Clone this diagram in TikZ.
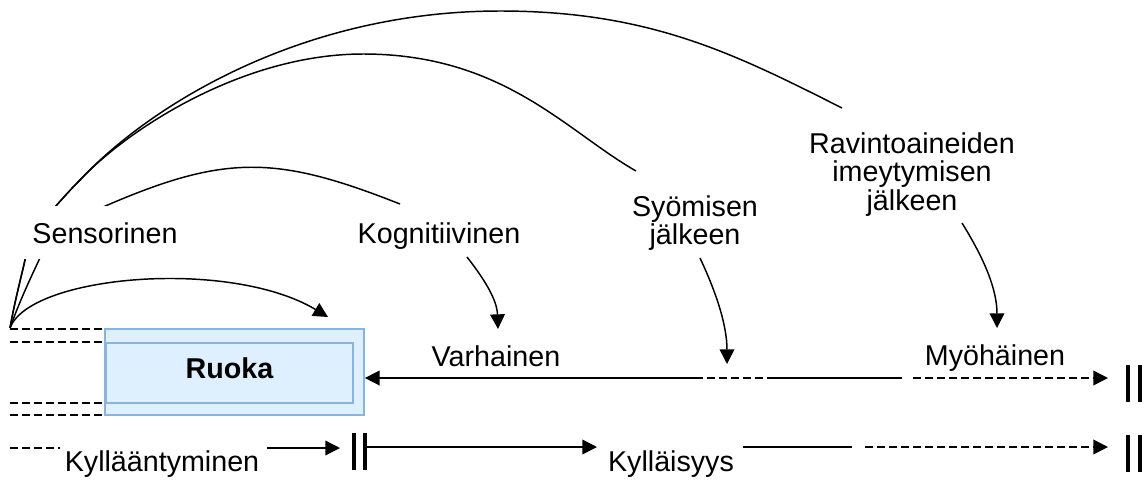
\documentclass[tikz,border=0pt]{standalone}
\usepackage{fontspec}
\setmainfont{Liberation Sans}
\usetikzlibrary{arrows.meta,backgrounds}
\definecolor{boxfill}{RGB}{222,240,253}
\definecolor{boxline}{RGB}{135,180,225}
\begin{document}
\begin{tikzpicture}[x=0.75pt,y=-0.75pt,
  lbl/.style={font=\fontsize{21.5}{21.4}\selectfont, inner sep=0pt},
  conn/.style={line width=1.1pt},
  tipped/.style={-{Triangle[length=11pt,width=11pt]}},
  dsh/.style={line width=1.1pt, dash pattern=on 6pt off 3pt},
  barline/.style={line width=2.4pt},
  rbox/.style={draw=boxline, fill=boxfill, line width=1.3pt, inner sep=0pt}]
\useasboundingbox (0,0) rectangle (1146,480);

% labels
\node[lbl, anchor=base, fill=white, minimum width=125pt, minimum height=40pt] (sens) at (105,243) {Sensorinen};
\node[lbl, anchor=base] (kog) at (439,243) {Kognitiivinen};
\node[lbl, align=center, anchor=north] (syo) at (695,195) {Syömisen\\jälkeen};
\node[lbl, align=center, anchor=north] (rav) at (912,132) {Ravintoaineiden\\imeytymisen\\jälkeen};
\node[lbl, anchor=base] (var) at (496,366) {Varhainen};
\node[lbl, anchor=base] (myo) at (995,365) {Myöhäinen};
\node[lbl, anchor=base] (kyl1) at (162,471) {Kyllääntyminen};
\node[lbl, anchor=base] (kyl2) at (671,471) {Kylläisyys};

% food box
\node[rbox, minimum width=194.25pt, minimum height=64.5pt] (ruokabox) at (234.5,372) {};
\node[rbox, font=\fontsize{21.5}{21.4}\selectfont\bfseries, text height=15.5pt, text depth=7.5pt,
      minimum width=185.25pt, minimum height=45pt] (ruoka) at (229.5,373) {Ruoka};

% coordinates
\coordinate (src) at (10,328);
\coordinate (aend) at (842,108);
\coordinate (bend) at (636,171);
\coordinate (cend) at (400,204);
\coordinate (rtip) at (328,317);
\coordinate (kstart) at (467,257);
\coordinate (ktip) at (498,329);
\coordinate (sstart) at (700,258);
\coordinate (stip) at (727,364);
\coordinate (rstart) at (962,223);
\coordinate (rvtip) at (997,328);
\coordinate (m1) at (695,378);
\coordinate (m2) at (768,378);
\coordinate (m3) at (902,378);
\coordinate (m4) at (913,378);
\coordinate (m5) at (1108,378);
\coordinate (b1) at (267,448);
\coordinate (b2) at (340,448);
\coordinate (b3) at (365,447);
\coordinate (b4) at (597,447);
\coordinate (b5) at (743,447);
\coordinate (b6) at (852,447);
\coordinate (b7) at (865,447);
\coordinate (b8) at (1108,447);

\begin{pgfonlayer}{background}
% long arcs from the sensory origin
\draw[conn] (src) .. controls (15,300) and (21,278) .. (25,260)
  .. controls (30,240) and (42,221) .. (55,207)
  .. controls (63,198) and (71,189) .. (80,180)
  .. controls (148,107) and (300,11) .. (500,11)
  .. controls (650,11) and (735,54) .. (aend);
\draw[conn] (src) .. controls (15,300) and (21,278) .. (25,260)
  .. controls (30,240) and (42,221) .. (55,207)
  .. controls (63,198) and (71,189) .. (80,180)
  .. controls (128,129) and (243,54) .. (363,54)
  .. controls (503,54) and (566,131) .. (bend);
\draw[conn] (src) .. controls (20,300) and (32,275) .. (39,260)
  .. controls (50,237) and (80,217) .. (103,207)
  .. controls (225,154) and (276,155) .. (cend);
\end{pgfonlayer}

% arrow to food
\draw[conn,tipped] (src) .. controls (30,275) and (230,258) .. (rtip);

% arrows from labels
\draw[conn,tipped] (kstart) .. controls (485,280) and (497,300) .. (ktip);
\draw[conn,tipped] (sstart) .. controls (716,292) and (727,325) .. (stip);
\draw[conn,tipped] (rstart) .. controls (985,260) and (997,290) .. (rvtip);

% dashed stubs on the left
\draw[dsh] (10,329) -- (103,329);
\draw[dsh] (10,342) -- (103,342);
\draw[dsh] (10,403) -- (103,403);
\draw[dsh] (10,415) -- (103,415);
\draw[dsh] (10,448) -- (60,448);

% middle timeline
\draw[conn,tipped] (m1) -- (m1 -| ruokabox.east);
\draw[dsh] (m1) -- (m2);
\draw[conn] (m2) -- (m3);
\draw[dsh,tipped] (m4) -- (m5);
\draw[barline] (1128,365) -- (1128,402);
\draw[barline] (1140,365) -- (1140,402);

% bottom timeline
\draw[conn,tipped] (b1) -- (b2);
\draw[barline] (354,433) -- (354,470);
\draw[barline] (365,433) -- (365,470);
\draw[conn,tipped] (b3) -- (b4);
\draw[conn] (b5) -- (b6);
\draw[dsh,tipped] (b7) -- (b8);
\draw[barline] (1128,435) -- (1128,472);
\draw[barline] (1140,435) -- (1140,472);
\end{tikzpicture}
\end{document}
